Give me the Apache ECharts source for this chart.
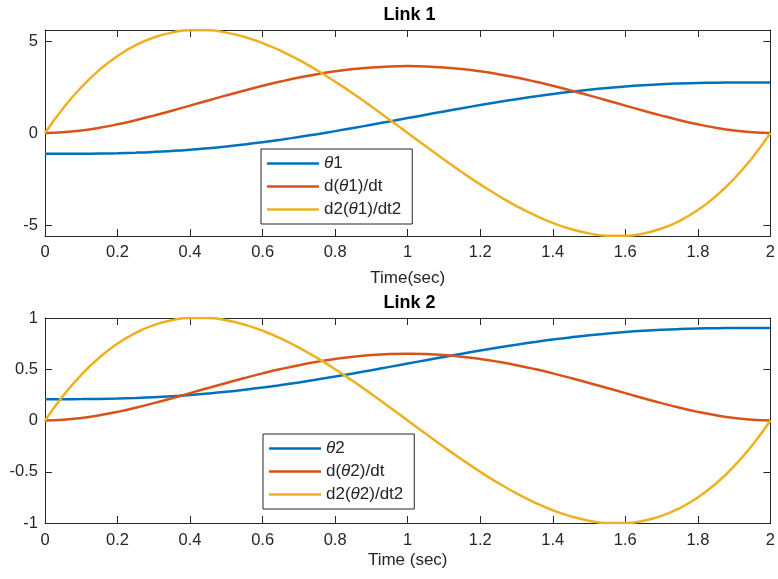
<!DOCTYPE html>
<html>
<head>
<meta charset="utf-8">
<script src="https://cdn.jsdelivr.net/npm/echarts@6/dist/echarts.min.js"></script>
<style>html,body{margin:0;padding:0;background:#fff}#c{width:778px;height:579px}</style>
</head>
<body>
<div id="c"></div>
<script>
var timeSec = [0,0.05,0.1,0.15,0.2,0.25,0.3,0.35,0.4,0.45,0.5,0.55,0.6,0.65,0.7,0.75,0.8,0.85,0.9,0.95,1.0,
               1.05,1.1,1.15,1.2,1.25,1.3,1.35,1.4,1.45,1.5,1.55,1.6,1.65,1.7,1.75,1.8,1.85,1.9,1.95,2.0];

var theta1   = [-1.13,-1.1294,-1.1255,-1.1154,-1.0968,-1.0677,-1.0268,-0.9728,-0.9053,-0.8238,-0.7284,-0.6193,-0.4973,-0.3630,-0.2175,-0.0622,0.1017,0.2725,0.4487,0.6284,0.81,
                0.9916,1.1713,1.3475,1.5183,1.6822,1.8375,1.9830,2.1173,2.2393,2.3484,2.4438,2.5253,2.5928,2.6468,2.6877,2.7168,2.7354,2.7455,2.7494,2.75];
var dtheta1  = [0,0.0346,0.1313,0.2801,0.4714,0.6962,0.9461,1.2131,1.4899,1.7697,2.0461,2.3135,2.5666,2.8009,3.0122,3.1970,3.3523,3.4757,3.5651,3.6193,3.6375,
                3.6193,3.5651,3.4757,3.3523,3.1970,3.0122,2.8009,2.5666,2.3135,2.0461,1.7697,1.4899,1.2131,0.9461,0.6962,0.4714,0.2801,0.1313,0.0346,0];
var ddtheta1 = [0,1.3477,2.4881,3.4320,4.1904,4.7742,5.1944,5.4617,5.5872,5.5817,5.4563,5.2216,4.8888,4.4687,3.9722,3.4102,2.7936,2.1334,1.4405,0.7257,0,
                -0.7257,-1.4405,-2.1334,-2.7936,-3.4102,-3.9722,-4.4687,-4.8888,-5.2216,-5.4563,-5.5817,-5.5872,-5.4617,-5.1944,-4.7742,-4.1904,-3.4320,-2.4881,-1.3477,0];

var theta2   = [0.208,0.2081,0.2088,0.2106,0.2139,0.2192,0.2265,0.2362,0.2483,0.2629,0.2799,0.2995,0.3213,0.3454,0.3714,0.3993,0.4286,0.4592,0.4908,0.5230,0.5555,
                0.5880,0.6202,0.6518,0.6824,0.7117,0.7396,0.7656,0.7897,0.8115,0.8311,0.8481,0.8627,0.8748,0.8845,0.8918,0.8971,0.9004,0.9022,0.9029,0.903];
var dtheta2  = [0,0.0062,0.0235,0.0502,0.0844,0.1247,0.1695,0.2173,0.2669,0.3170,0.3665,0.4144,0.4597,0.5017,0.5396,0.5727,0.6005,0.6226,0.6386,0.6483,0.6516,
                0.6483,0.6386,0.6226,0.6005,0.5727,0.5396,0.5017,0.4597,0.4144,0.3665,0.3170,0.2669,0.2173,0.1695,0.1247,0.0844,0.0502,0.0235,0.0062,0];
var ddtheta2 = [0,0.2414,0.4457,0.6147,0.7506,0.8552,0.9304,0.9783,1.0008,0.9998,0.9773,0.9353,0.8757,0.8004,0.7115,0.6108,0.5004,0.3821,0.2580,0.1300,0,
                -0.1300,-0.2580,-0.3821,-0.5004,-0.6108,-0.7115,-0.8004,-0.8757,-0.9353,-0.9773,-0.9998,-1.0008,-0.9783,-0.9304,-0.8552,-0.7506,-0.6147,-0.4457,-0.2414,0];

var names1 = ['θ1','d(θ1)/dt','d2(θ1)/dt2'];
var names2 = ['θ2','d(θ2)/dt','d2(θ2)/dt2'];
var titles = ['Link 1','Link 2'];
var xNames = ['Time(sec)','Time (sec)'];
var y1Ticks = [-5,0,5];

var colors = ['#0072BD','#D95319','#EDB120'];
var FONT = '"Liberation Sans", Arial, Helvetica, sans-serif';
var AX = '#262626';
var TICKFS = 16.5;

function pairs(xs, ys){ return xs.map(function(x,i){ return [x, ys[i]]; }); }

function xAx(grid, pos, name, labelShow, margin, nameGap){
  return {
    type:'value', gridIndex:grid, position:pos, min:0, max:2, interval:0.2,
    name: name || '', nameLocation:'middle', nameGap: nameGap || 0,
    nameTextStyle:{color:AX, fontSize:17, fontFamily:FONT},
    axisLine:{show:true, onZero:false, lineStyle:{color:AX, width:1}},
    axisTick:{show:true, inside:true, length:7, lineStyle:{color:AX, width:1}},
    axisLabel:{show:labelShow, color:AX, fontSize:TICKFS, fontFamily:FONT, margin:margin||0, showMinLabel:true, showMaxLabel:true},
    splitLine:{show:false}
  };
}
function yAx(grid, pos, min, max, interval, custom, labelShow){
  var a = {
    type:'value', gridIndex:grid, position:pos, min:min, max:max,
    axisLine:{show:true, onZero:false, lineStyle:{color:AX, width:1}},
    axisTick:{show:true, inside:true, length:7, lineStyle:{color:AX, width:1}},
    axisLabel:{show:labelShow, color:AX, fontSize:TICKFS, fontFamily:FONT, margin:7, showMinLabel:true, showMaxLabel:true},
    splitLine:{show:false}
  };
  if (custom) { a.axisTick.customValues = custom; a.axisLabel.customValues = custom; }
  else { a.interval = interval; }
  return a;
}
function ser(name, xi, yi, ys, c){
  return {name:name, type:'line', xAxisIndex:xi, yAxisIndex:yi, data:pairs(timeSec, ys),
    smooth:true, symbol:'none', showSymbol:false, lineStyle:{color:c, width:2.5}, itemStyle:{color:c}, z:3};
}
function leg(names, left, top){
  return {
    data:names, orient:'vertical', left:left, top:top, itemWidth:52, itemHeight:2.5, icon:'rect',
    itemGap:6, padding:[6,11,6,6], borderColor:AX, borderWidth:1, backgroundColor:'#fff',
    selectedMode:false,
    formatter:function(n){ return n.replace('θ','{i|θ}'); },
    textStyle:{color:AX, fontSize:17, fontFamily:FONT,
      rich:{i:{fontStyle:'italic', fontSize:17, fontFamily:FONT, color:AX}}}
  };
}

var chart = echarts.init(document.getElementById('c'), null, {renderer:'canvas'});
chart.setOption({
  animation:false,
  backgroundColor:'#fff',
  graphic:[
    {type:'text', x:409.5, y:15, style:{text:titles[0], fill:'#000', font:'bold 18px '+FONT, textAlign:'center', textVerticalAlign:'middle'}},
    {type:'text', x:409.5, y:303, style:{text:titles[1], fill:'#000', font:'bold 18px '+FONT, textAlign:'center', textVerticalAlign:'middle'}}
  ],
  grid:[
    {left:45, top:30, width:729, height:206},
    {left:45, top:318, width:729, height:205}
  ],
  xAxis:[
    xAx(0,'bottom',xNames[0],true,8,34),
    xAx(0,'top','',false),
    xAx(1,'bottom',xNames[1],true,9,29),
    xAx(1,'top','',false)
  ],
  yAxis:[
    yAx(0,'left',-5.6,5.6,null,y1Ticks,true),
    yAx(0,'right',-5.6,5.6,null,y1Ticks,false),
    yAx(1,'left',-1,1,0.5,null,true),
    yAx(1,'right',-1,1,0.5,null,false)
  ],
  legend:[ leg(names1,261,149), leg(names2,263,434) ],
  series:[
    ser(names1[0],0,0,theta1,colors[0]),
    ser(names1[1],0,0,dtheta1,colors[1]),
    ser(names1[2],0,0,ddtheta1,colors[2]),
    ser(names2[0],2,2,theta2,colors[0]),
    ser(names2[1],2,2,dtheta2,colors[1]),
    ser(names2[2],2,2,ddtheta2,colors[2])
  ]
});
</script>
</body>
</html>
